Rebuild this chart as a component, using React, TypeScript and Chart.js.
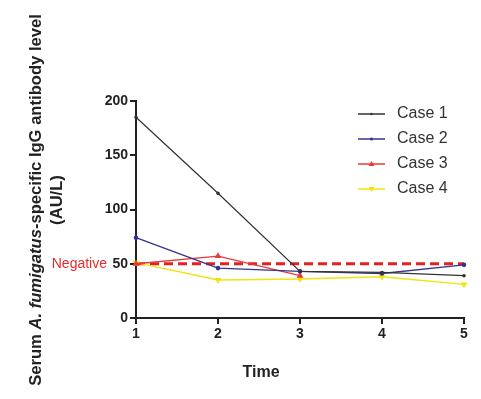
import React, { useEffect, useRef } from "react";
import { Chart, registerables } from "chart.js";

Chart.register(...registerables);

const timeLabels = ["1", "2", "3", "4", "5"];
const case1 = [185, 115, 43, 42, 39];
const case2 = [74, 46, 43, 41, 49];
const case3 = [50, 57, 39, null, null];
const case4 = [51, 35, 36, 38, 31];
const negativeLevel = [50, 50, 50, 50, 50];
const yTicks = [0, 50, 100, 150, 200];

const seriesNames = ["Case 1", "Case 2", "Case 3", "Case 4"];
const seriesColors = ["#333333", "#34348f", "#e83a3a", "#f2e30a"];

const FONT = "'Liberation Sans', Arial, sans-serif";

const overlayPlugin = {
  id: "overlay",
  afterDraw(chart: any) {
    const ctx = chart.ctx;
    const y = chart.scales.y;
    ctx.save();
    // Y title with italic part
    const cx = 36;
    const cy = 200;
    ctx.translate(cx, cy);
    ctx.rotate(-Math.PI / 2);
    const parts = [
      { t: "Serum ", f: `bold 16.6px ${FONT}` },
      { t: "A. fumigatus", f: `italic bold 16.6px ${FONT}` },
      { t: "-specific IgG antibody level", f: `bold 16.6px ${FONT}` },
    ];
    let total = 0;
    for (const p of parts) {
      ctx.font = p.f;
      total += ctx.measureText(p.t).width;
    }
    let x = -total / 2;
    ctx.fillStyle = "#222";
    ctx.textBaseline = "middle";
    ctx.textAlign = "left";
    for (const p of parts) {
      ctx.font = p.f;
      ctx.fillText(p.t, x, 0);
      x += ctx.measureText(p.t).width;
    }
    ctx.font = `bold 16.6px ${FONT}`;
    ctx.textAlign = "center";
    ctx.fillText("(AU/L)", 0, 21);
    ctx.restore();

    // X title
    ctx.save();
    ctx.font = `bold 16px ${FONT}`;
    ctx.fillStyle = "#222";
    ctx.textAlign = "center";
    ctx.textBaseline = "middle";
    ctx.fillText("Time", 261, 373);
    ctx.restore();

    // Negative label
    ctx.save();
    ctx.font = `14px ${FONT}`;
    ctx.fillStyle = "#e52a2a";
    ctx.textAlign = "right";
    ctx.textBaseline = "middle";
    ctx.fillText("Negative", 107, y.getPixelForValue(50));
    ctx.restore();

    // Legend
    ctx.save();
    const lx0 = 358;
    const lx1 = 385;
    const ty0 = 114;
    const dy = 25;
    chart.data.datasets.forEach((ds: any, i: number) => {
      if (i >= seriesNames.length) return;
      const yy = ty0 + i * dy;
      ctx.strokeStyle = ds.borderColor;
      ctx.lineWidth = 1.5;
      ctx.beginPath();
      ctx.moveTo(lx0, yy);
      ctx.lineTo(lx1, yy);
      ctx.stroke();
      ctx.fillStyle = ds.borderColor;
      const mx = (lx0 + lx1) / 2;
      if (i === 2) {
        ctx.beginPath();
        ctx.moveTo(mx, yy - 3);
        ctx.lineTo(mx + 3, yy + 2);
        ctx.lineTo(mx - 3, yy + 2);
        ctx.closePath();
        ctx.fill();
      } else if (i === 3) {
        ctx.beginPath();
        ctx.moveTo(mx, yy + 3);
        ctx.lineTo(mx + 3, yy - 2);
        ctx.lineTo(mx - 3, yy - 2);
        ctx.closePath();
        ctx.fill();
      } else {
        ctx.beginPath();
        ctx.arc(mx, yy, i === 0 ? 1.2 : 1.6, 0, Math.PI * 2);
        ctx.fill();
      }
      ctx.font = `16px ${FONT}`;
      ctx.fillStyle = "#333";
      ctx.textAlign = "left";
      ctx.textBaseline = "middle";
      ctx.fillText(ds.label, 397, yy);
    });
    ctx.restore();
  },
};

export default function App() {
  const ref = useRef<HTMLCanvasElement>(null);
  useEffect(() => {
    if (!ref.current) return;
    const tickFont = { family: FONT, size: 14, weight: "bold" as const };
    const chart = new Chart(ref.current, {
      type: "line",
      data: {
        labels: timeLabels,
        datasets: [
          {
            label: seriesNames[0],
            data: case1,
            borderColor: seriesColors[0],
            backgroundColor: seriesColors[0],
            borderWidth: 1.2,
            pointStyle: "circle",
            pointRadius: 1.2,
          },
          {
            label: seriesNames[1],
            data: case2,
            borderColor: seriesColors[1],
            backgroundColor: seriesColors[1],
            borderWidth: 1.4,
            pointStyle: "circle",
            pointRadius: 1.6,
          },
          {
            label: seriesNames[2],
            data: case3,
            borderColor: seriesColors[2],
            backgroundColor: seriesColors[2],
            borderWidth: 1.4,
            pointStyle: "triangle",
            pointRadius: 2.5,
          },
          {
            label: seriesNames[3],
            data: case4,
            borderColor: seriesColors[3],
            backgroundColor: seriesColors[3],
            borderWidth: 1.4,
            pointStyle: "triangle",
            rotation: 180,
            pointRadius: 2.5,
          },
          {
            label: "Negative",
            data: negativeLevel,
            borderColor: "#e52020",
            borderWidth: 3,
            borderDash: [9, 5],
            pointRadius: 0,
          },
        ],
      },
      options: {
        responsive: false,
        animation: false,
        layout: { padding: { top: 101, right: 17, left: 0, bottom: 0 } },
        plugins: { legend: { display: false }, tooltip: { enabled: false } },
        scales: {
          x: {
            type: "category",
            offset: false,
            grid: { drawOnChartArea: false, drawTicks: true, tickLength: 6, color: "#222", lineWidth: 2 },
            border: { color: "#222", width: 2 },
            ticks: { color: "#222", font: tickFont, padding: 2, maxRotation: 0 },
            afterFit: (s: any) => {
              s.height = 81;
            },
          },
          y: {
            min: 0,
            max: 200,
            afterBuildTicks: (s: any) => {
              s.ticks = yTicks.map((v) => ({ value: v }));
            },
            grid: { drawOnChartArea: false, drawTicks: true, tickLength: 6, color: "#222", lineWidth: 2 },
            border: { color: "#222", width: 2 },
            ticks: { color: "#222", font: tickFont, padding: 2 },
            afterFit: (s: any) => {
              s.width = 136;
            },
          },
        },
      },
      plugins: [overlayPlugin],
    });
    return () => chart.destroy();
  }, []);
  return (
    <div style={{ position: "absolute", left: 0, top: 0, width: 481, height: 399, background: "#fff" }}>
      <canvas ref={ref} width={481} height={399} />
    </div>
  );
}
